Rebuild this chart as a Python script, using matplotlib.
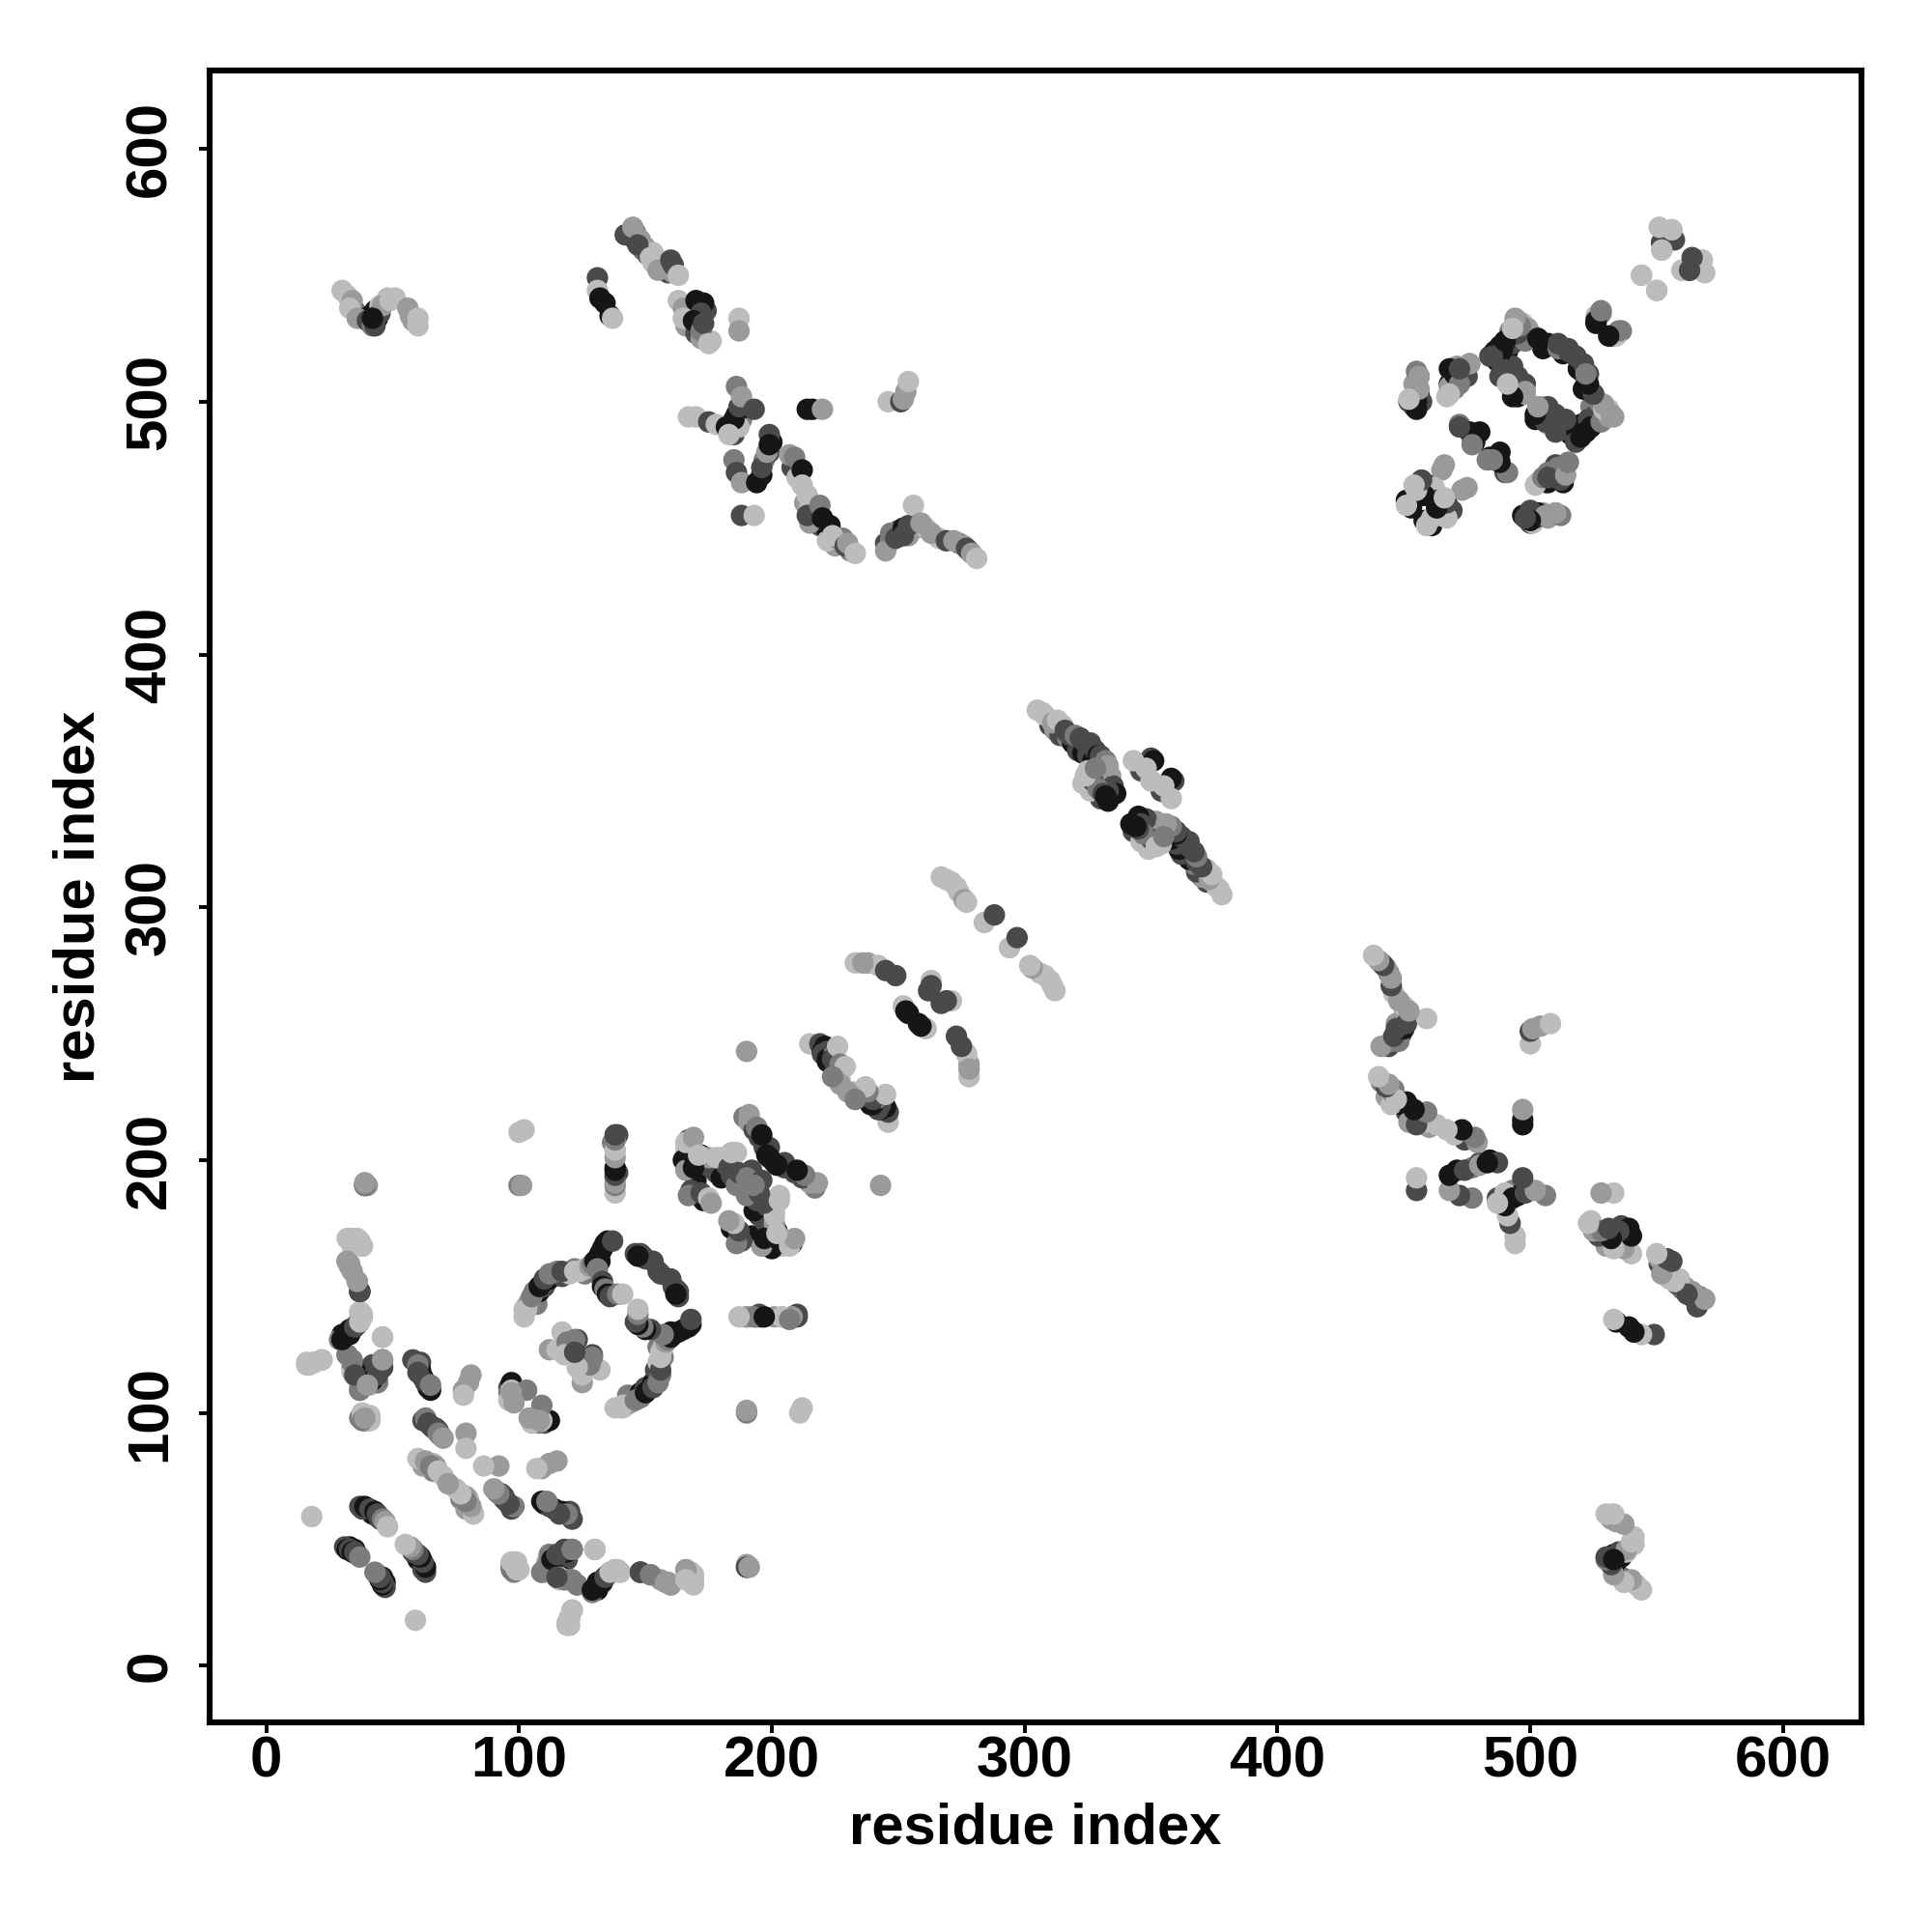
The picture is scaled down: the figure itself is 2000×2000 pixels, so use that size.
import matplotlib
matplotlib.use("Agg")
import matplotlib.pyplot as plt

plt.rcParams['font.family'] = ['Liberation Sans', 'DejaVu Sans']

# contacts, (residue i, residue j, shade), only one side of the diagonal
shade_grey = {'L': '#bcbcbc', 'A': '#9a9a9a', 'M': '#7c7c7c', 'D': '#4a4a4a', 'K': '#161616'}

corner = [
    (31,47,'D'),(32,46,'K'),(33,46,'D'),(34,45,'K'),(35,45,'D'),(37,43,'M'),
    (37,63,'D'),(39,63,'K'),(41,62,'D'),(43,61,'K'),(44,60,'D'),(46,58,'M'),(47,57,'A'),(48,55,'L'),
    (17,119,'L'),(19,120,'L'),(22,121,'L'),(18,59,'L'),
    (39,190,'M'),(40,190,'A'),
    (35,169,'L'),(37,168,'L'),(38,166,'A'),(33,159,'A'),(34,156,'A'),(37,148,'D'),
    (29,129,'M'),(31,131,'K'),(32,131,'K'),(33,132,'K'),(34,133,'K'),(35,134,'D'),(36,135,'M'),(37,137,'L'),(38,139,'L'),
    (46,130,'L'),
    (34,121,'M'),(34,118,'M'),(35,116,'D'),(36,114,'D'),(37,111,'L'),(38,110,'M'),
    (42,112,'M'),(43,115,'K'),(44,117,'D'),(45,119,'K'),(46,121,'M'),
    (37,98,'M'),(39,97,'K'),(41,97,'L'),
    (58,121,'D'),(60,119,'M'),(60,116,'D'),(63,112,'D'),(65,109,'K'),(65,111,'M'),
    (63,98,'M'),(64,96,'D'),(65,95,'D'),(67,94,'D'),(68,92,'M'),(70,90,'A'),
    (60,82,'L'),(63,81,'A'),(65,79,'M'),(68,77,'L'),(70,75,'L'),(72,72,'A'),
    (79,92,'A'),(79,86,'L'),
    (78,109,'A'),(80,112,'A'),(81,115,'A'),(78,107,'L'),
    (96,110,'D'),(97,112,'K'),(96,108,'M'),(96,105,'L'),(97,109,'L'),(103,109,'M'),(98,104,'A'),(97,108,'A'),
    (40,97,'A'),(38,100,'L'),(39,97,'M'),(38,99,'L'),(41,97,'L'),
    (37,109,'M'),(44,112,'M'),(42,113,'K'),(44,115,'D'),(46,118,'D'),(46,121,'M'),
    (35,116,'L'),(34,120,'M'),(32,123,'M'),(35,115,'D'),
    (46,130,'L'),(30,129,'K'),(31,131,'K'),(33,132,'K'),(35,134,'D'),(37,136,'L'),(38,138,'L'),(37,140,'L'),
    (37,148,'D'),(36,152,'M'),(33,158,'A'),(32,160,'A'),(34,166,'L'),(32,169,'L'),
    (16,120,'L'),(19,120,'L'),(22,121,'L'),
    (39,190,'D'),(39,191,'A'),
]

loop_one = [
    (102,138,'L'),(102,141,'L'),(104,144,'A'),(103,141,'L'),(105,146,'M'),(106,148,'M'),(108,150,'K'),
    (110,153,'D'),(112,155,'M'),(115,156,'M'),(117,156,'D'),(122,156,'L'),(124,156,'L'),(126,157,'L'),
    (128,158,'A'),(129,159,'M'),(130,160,'K'),(131,161,'K'),(132,163,'K'),(133,165,'K'),(134,167,'K'),(135,168,'K'),(137,168,'D'),
    (131,157,'M'),(133,152,'D'),(133,150,'K'),(134,149,'M'),(135,147,'K'),(136,146,'D'),(139,147,'M'),(141,147,'L'),
    (146,163,'D'),(148,163,'D'),(149,162,'D'),(150,161,'D'),(153,160,'D'),(155,156,'D'),(147,162,'K'),
    (117,132,'L'),(123,129,'D'),(122,129,'M'),(112,125,'A'),(115,125,'L'),(119,128,'M'),(118,123,'L'),(124,122,'D'),
    (100,190,'M'),(101,190,'A'),(100,211,'L'),(102,212,'L'),
    (139,210,'D'),(138,208,'A'),(138,204,'L'),(139,195,'D'),(138,193,'M'),(138,187,'L'),(137,207,'M'),(138,197,'K'),
]

low_band = [
    (97,40,'L'),(97,38,'M'),(99,41,'L'),(98,39,'A'),
    (119,16,'L'),(120,19,'L'),(121,22,'L'),
    (109,37,'M'),(112,44,'M'),(113,42,'K'),(115,44,'D'),(118,46,'D'),(121,46,'A'),
    (116,34,'L'),(120,34,'M'),(123,32,'M'),(115,35,'D'),(111,40,'A'),
    (129,30,'K'),(131,31,'K'),(132,33,'K'),(134,35,'D'),(136,37,'L'),(138,38,'L'),(140,37,'L'),(130,46,'L'),
    (148,37,'D'),(152,36,'A'),(158,33,'A'),(160,32,'A'),(166,38,'L'),(169,36,'L'),(169,34,'L'),
    (190,39,'M'),(191,39,'A'),
]

ring_two = [
    (167,208,'D'),(166,204,'L'),(165,200,'K'),(166,196,'A'),(168,188,'D'),(167,186,'M'),
    (172,202,'K'),(175,201,'A'),(180,201,'L'),(186,203,'L'),(182,198,'D'),(187,195,'D'),(190,193,'M'),
    (172,187,'D'),(175,185,'L'),(176,183,'A'),
    (189,217,'M'),(191,215,'A'),(193,212,'D'),(195,209,'D'),(197,205,'D'),(198,202,'K'),(191,218,'A'),(194,213,'M'),(196,210,'K'),
    (201,199,'K'),
    (169,197,'K'),(169,202,'K'),(166,207,'L'),(169,209,'A'),(171,202,'L'),(178,201,'L'),(183,197,'D'),(184,203,'L'),
    (190,138,'M'),(191,138,'A'),(194,138,'D'),(196,138,'K'),(201,138,'A'),(204,138,'L'),(208,138,'M'),(210,138,'D'),
    (190,243,'A'),
]

helix_run = [
    (215,246,'L'),(219,246,'D'),(221,245,'K'),(220,243,'K'),(222,243,'D'),(220,242,'D'),(222,240,'K'),(224,241,'M'),(222,239,'K'),(224,240,'D'),
    (226,245,'L'),(227,238,'M'),(229,237,'L'),(227,232,'L'),(227,230,'A'),(224,233,'M'),
    (233,278,'L'),(238,278,'A'),(242,277,'L'),(245,275,'D'),(249,273,'D'),(236,278,'A'),
    (263,271,'L'),(263,269,'D'),(262,267,'D'),(252,261,'L'),(253,259,'K'),(254,258,'K'),
    (267,312,'L'),(269,311,'L'),(271,310,'L'),(273,308,'L'),(274,306,'L'),(276,303,'A'),(277,302,'L'),(284,294,'L'),(288,297,'D'),
]

middle = [
    (305,378,'L'),(307,377,'L'),(308,376,'L'),(311,373,'A'),(313,374,'L'),(315,372,'L'),(316,370,'D'),(318,368,'D'),
    (320,368,'M'),(322,367,'D'),(324,365,'D'),(326,365,'D'),(328,362,'D'),(329,360,'K'),(330,360,'D'),(332,358,'M'),(333,356,'A'),
    (323,349,'L'),(326,346,'L'),(327,350,'D'),(329,347,'M'),(331,345,'D'),(333,342,'K'),(332,344,'K'),(325,354,'L'),(324,352,'L'),(328,355,'M'),
    (345,356,'L'),(346,354,'D'),(350,359,'D'),(351,358,'K'),(348,355,'L'),(350,350,'L'),(343,358,'L'),
]

top_left = [
    (30,544,'L'),(32,542,'L'),(34,540,'A'),(33,537,'L'),(36,533,'A'),(40,532,'D'),(42,530,'M'),(44,533,'K'),(45,535,'D'),(46,538,'A'),(49,540,'L'),(51,541,'L'),
    (43,530,'D'),(42,533,'K'),(56,537,'A'),(57,534,'A'),(60,533,'L'),(60,530,'L'),
    (131,549,'D'),(131,544,'L'),(132,541,'K'),(134,539,'K'),(136,534,'K'),(137,533,'L'),
    (142,566,'D'),(145,569,'A'),(148,564,'A'),(150,561,'A'),(153,559,'L'),(156,554,'M'),(147,562,'D'),(152,557,'L'),(155,552,'A'),(160,556,'D'),(161,554,'D'),(163,550,'L'),
    (163,540,'L'),(165,537,'A'),(165,533,'L'),(170,540,'K'),(173,539,'K'),(172,535,'D'),(169,532,'K'),(172,528,'M'),(173,531,'D'),(175,523,'L'),
    (187,533,'L'),(187,528,'A'),
    (167,494,'L'),(170,494,'L'),(175,492,'D'),(178,491,'L'),(182,490,'K'),(185,493,'K'),(187,498,'D'),(186,506,'M'),(188,502,'A'),(193,497,'D'),(183,487,'L'),
    (185,477,'M'),(186,472,'D'),(188,468,'A'),(194,468,'K'),(196,474,'D'),(198,480,'A'),(199,487,'D'),(199,483,'K'),
    (188,455,'D'),(193,455,'L'),(214,497,'K'),(216,497,'K'),(220,497,'A'),
    (246,500,'L'),(251,500,'D'),(252,501,'A'),(253,504,'A'),(254,508,'L'),
    (207,479,'A'),(209,478,'M'),(212,473,'K'),(212,467,'L'),(214,463,'L'),(214,455,'D'),(219,459,'M'),(220,454,'K'),(223,451,'K'),(226,446,'M'),(224,447,'L'),
    (229,443,'D'),(230,444,'A'),(233,440,'L'),
    (245,441,'A'),(247,448,'M'),(249,446,'D'),(252,450,'K'),(252,447,'D'),(254,451,'D'),(256,459,'L'),(259,452,'A'),(263,448,'A'),
    (269,445,'D'),(272,445,'A'),(276,443,'A'),(277,442,'D'),(279,440,'A'),(281,438,'L'),
]

top_right = [
    (454,502,'D'),(455,506,'A'),(456,510,'A'),(453,500,'K'),(454,498,'D'),
    (467,502,'L'),(470,505,'M'),(470,507,'D'),(469,512,'D'),(471,514,'A'),(476,515,'M'),
    (472,491,'M'),(476,488,'K'),(480,488,'K'),(477,485,'M'),
    (484,478,'K'),(487,477,'K'),(483,477,'M'),(490,472,'D'),
    (459,466,'L'),(454,461,'L'),(460,467,'D'),(458,463,'K'),(465,473,'A'),(475,466,'A'),(461,451,'K'),(459,451,'L'),(465,455,'L'),(469,457,'D'),(467,454,'L'),(462,466,'L'),
    (484,518,'D'),(486,520,'K'),(488,522,'K'),(490,524,'K'),(492,528,'M'),(494,531,'A'),(497,529,'L'),(499,529,'A'),(495,532,'A'),
    (488,510,'D'),(492,506,'D'),(495,502,'K'),(498,503,'A'),
    (504,498,'A'),(511,490,'D'),(502,493,'K'),(507,491,'L'),(521,489,'K'),(533,494,'A'),(526,492,'D'),(518,485,'D'),(524,490,'K'),(529,493,'L'),
    (503,525,'D'),(507,523,'K'),(515,521,'D'),(511,522,'M'),
    (520,515,'D'),(523,511,'D'),(525,503,'K'),
    (526,534,'L'),(528,535,'M'),(526,531,'K'),(532,526,'K'),(536,528,'M'),
    (515,476,'A'),(511,470,'K'),(507,472,'M'),(503,468,'L'),(513,472,'D'),
    (510,456,'A'),(500,452,'D'),(497,455,'K'),(505,456,'A'),(501,452,'L'),
    (552,568,'L'),(556,568,'L'),(552,560,'L'),(552,563,'D'),(557,564,'D'),
    (565,556,'D'),(563,552,'D'),(560,552,'L'),(568,556,'L'),(569,551,'L'),
    (544,550,'L'),(550,544,'L'),
]

# contacts hidden in the dense clumps, these sit underneath the rest
dense_under = [
    (144,566,'D'),(146,564,'K'),(149,560,'M'),(151,558,'D'),(153,555,'L'),(158,553,'M'),(159,551,'D'),(161,551,'A'),(146,567,'M'),
    (166,530,'A'),(168,537,'D'),(171,537,'K'),(174,536,'D'),(167,535,'L'),(170,527,'D'),(172,525,'A'),(176,524,'L'),
    (35,536,'D'),(37,534,'M'),(41,534,'K'),(43,536,'K'),(45,538,'L'),(48,541,'L'),(58,532,'A'),
    (184,489,'K'),(186,491,'D'),(188,493,'M'),(185,487,'D'),(186,495,'K'),(187,490,'L'),(196,471,'K'),(197,477,'M'),(200,484,'K'),(199,480,'D'),
    (208,474,'D'),(210,470,'L'),(213,460,'A'),(215,458,'L'),(217,455,'K'),(219,451,'D'),(222,449,'K'),(225,443,'A'),(228,446,'M'),(231,441,'M'),(222,445,'L'),(215,452,'A'),
    (245,444,'D'),(247,445,'M'),(250,449,'D'),(254,447,'A'),(257,450,'A'),(261,450,'L'),(266,446,'L'),(274,444,'M'),(278,441,'M'),
    (310,372,'D'),(312,370,'A'),(314,368,'D'),(317,367,'M'),(319,365,'K'),(321,362,'D'),(323,361,'K'),(325,360,'D'),(327,358,'K'),(331,355,'D'),(334,352,'A'),(335,348,'D'),(336,345,'K'),(333,346,'D'),(330,343,'D'),(328,347,'D'),
    (170,192,'K'),(170,198,'M'),(168,200,'L'),(173,198,'K'),(176,197,'D'),(178,195,'D'),(180,193,'K'),(184,194,'D'),(186,190,'M'),(192,196,'D'),(199,205,'D'),(170,188,'K'),(173,184,'K'),
    (456,503,'K'),(457,500,'D'),(472,510,'K'),(474,511,'M'),(468,507,'K'),(489,518,'K'),(491,520,'K'),(493,523,'D'),(495,526,'D'),(497,531,'L'),(493,514,'D'),(495,510,'D'),(498,507,'D'),
    (500,527,'M'),(505,521,'K'),(513,519,'K'),(518,518,'D'),(522,507,'K'),(521,511,'M'),(524,498,'M'),(527,495,'D'),(530,496,'M'),(519,488,'K'),(516,487,'K'),(513,489,'D'),
    (508,470,'D'),(510,475,'D'),(513,468,'K'),(506,468,'A'),(500,455,'K'),(507,454,'A'),(512,455,'M'),(461,463,'D'),(463,458,'K'),(458,453,'K'),
    (30,131,'K'),(44,59,'K'),(42,60,'K'),(45,58,'D'),(38,62,'D'),(35,46,'K'),(36,44,'K'),(33,47,'K'),
    (68,93,'D'),(66,94,'D'),(62,97,'D'),(69,91,'D'),(61,120,'D'),(61,117,'K'),(62,114,'K'),(64,110,'K'),(66,77,'M'),(64,80,'L'),(66,80,'L'),(67,79,'A'),(62,79,'A'),
    (117,43,'K'),(119,42,'D'),(111,41,'L'),(113,37,'A'),(117,35,'K'),(131,33,'K'),(133,33,'K'),(135,36,'D'),
    (103,142,'K'),(107,143,'M'),(108,148,'K'),(110,150,'D'),(112,153,'K'),(117,154,'D'),(120,155,'L'),(122,157,'M'),(126,155,'M'),(130,158,'K'),(132,160,'K'),
]

contacts = dense_under + corner + loop_one + low_band + ring_two + helix_run + middle + top_left + top_right
res_i = [c[0] for c in contacts]
res_j = [c[1] for c in contacts]
greys = [shade_grey[c[2]] for c in contacts]

tick_vals = [0, 100, 200, 300, 400, 500, 600]

fig = plt.figure(figsize=(10, 10), dpi=200)
ax = fig.add_axes([0.1085, 0.1085, 0.855, 0.855])

# the map is symmetric, so each contact goes on both sides of the diagonal
ax.scatter(res_i + res_j, res_j + res_i, s=64, c=greys + greys, linewidths=0)

ax.set_xlim(-22.4, 631)
ax.set_ylim(-22.4, 631)
ax.set_xticks(tick_vals)
ax.set_yticks(tick_vals)
ax.tick_params(length=4, width=1.4, labelsize=21.6)
ax.tick_params(axis='x', pad=0.8)
ax.tick_params(axis='y', pad=8)
for lab in ax.get_xticklabels():
    lab.set_fontweight('bold')
for lab in ax.get_yticklabels():
    lab.set_fontweight('bold')
    lab.set_rotation(90)
    lab.set_va('center')
for s in ax.spines.values():
    s.set_linewidth(2.2)

ax.set_xlabel('residue index', fontsize=21.5, fontweight='bold', labelpad=5)
ax.set_ylabel('residue index', fontsize=21.5, fontweight='bold', labelpad=7)

fig.savefig('out.png', dpi=200)
